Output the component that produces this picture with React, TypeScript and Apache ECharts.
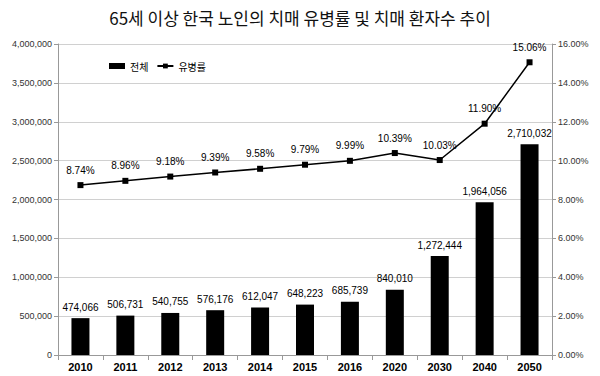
import React, { useEffect, useRef } from "react";
import * as echarts from "echarts";

const categories = ["2010", "2011", "2012", "2013", "2014", "2015", "2016", "2020", "2030", "2040", "2050"];
const patients = [474066, 506731, 540755, 576176, 612047, 648223, 685739, 840010, 1272444, 1964056, 2710032];
const prevalence = [8.74, 8.96, 9.18, 9.39, 9.58, 9.79, 9.99, 10.39, 10.03, 11.9, 15.06];
const titleText = "65세 이상 한국 노인의 치매 유병률 및 치매 환자수 추이";

const fmt = (v: number) => v.toLocaleString("en-US");

export default function App() {
  const ref = useRef<HTMLDivElement>(null);
  useEffect(() => {
    document.body.style.margin = "0";
    const chart = echarts.init(ref.current!, null, { renderer: "svg" });
    const font = "'Noto Sans CJK KR', 'DejaVu Sans', sans-serif";
    const numFont = "'Liberation Sans', Arial, sans-serif";
    chart.setOption({
      animation: false,
      backgroundColor: "#ffffff",
      textStyle: { fontFamily: font },
      title: {
        text: titleText,
        left: "center",
        top: 4,
        textStyle: { fontSize: 17, fontWeight: "normal", color: "#111", fontFamily: font },
      },
      legend: {
        left: 104,
        top: 56,
        itemGap: 8,
        itemWidth: 16,
        itemHeight: 6,
        textStyle: { fontSize: 10, color: "#000", fontFamily: font },
        data: [
          { name: "전체", icon: "rect" },
          { name: "유병률" },
        ],
      },
      grid: { left: 58, right: 48, top: 44, bottom: 21, containLabel: false },
      xAxis: {
        type: "category",
        data: categories,
        axisLine: { lineStyle: { color: "#999" } },
        axisTick: { show: true, alignWithLabel: false, lineStyle: { color: "#999" } },
        axisLabel: { color: "#000", fontSize: 11, fontWeight: "bold", margin: 6, fontFamily: numFont },
      },
      yAxis: [
        {
          type: "value",
          min: 0,
          max: 4000000,
          interval: 500000,
          axisLine: { show: true, lineStyle: { color: "#999" } },
          axisTick: { show: true, length: 4, lineStyle: { color: "#999" } },
          axisLabel: { color: "#333", fontSize: 9, formatter: (v: number) => fmt(v), margin: 6, fontFamily: numFont },
          splitLine: { lineStyle: { color: "#d0d0d0" } },
        },
        {
          type: "value",
          min: 0,
          max: 16,
          interval: 2,
          position: "right",
          axisLine: { show: true, lineStyle: { color: "#999" } },
          axisTick: { show: true, length: 4, lineStyle: { color: "#999" } },
          axisLabel: { color: "#333", fontSize: 9, formatter: (v: number) => v.toFixed(2) + "%", margin: 6, fontFamily: numFont },
          splitLine: { show: false },
        },
      ],
      series: [
        {
          name: "전체",
          type: "bar",
          data: patients,
          barWidth: 18,
          itemStyle: { color: "#000" },
          label: {
            show: true,
            position: "top",
            distance: 6,
            color: "#000",
            fontSize: 10,
            fontFamily: numFont,
            formatter: (p: any) => fmt(p.value),
          },
        },
        {
          name: "유병률",
          type: "line",
          yAxisIndex: 1,
          data: prevalence,
          symbol: "rect",
          symbolSize: 6,
          lineStyle: { color: "#000", width: 1.5 },
          itemStyle: { color: "#000" },
          label: {
            show: true,
            position: "top",
            distance: 7,
            color: "#000",
            fontSize: 10,
            fontFamily: numFont,
            formatter: (p: any) => p.value.toFixed(2) + "%",
          },
        },
      ],
    });
    return () => chart.dispose();
  }, []);
  return <div ref={ref} style={{ width: 600, height: 376 }} />;
}
